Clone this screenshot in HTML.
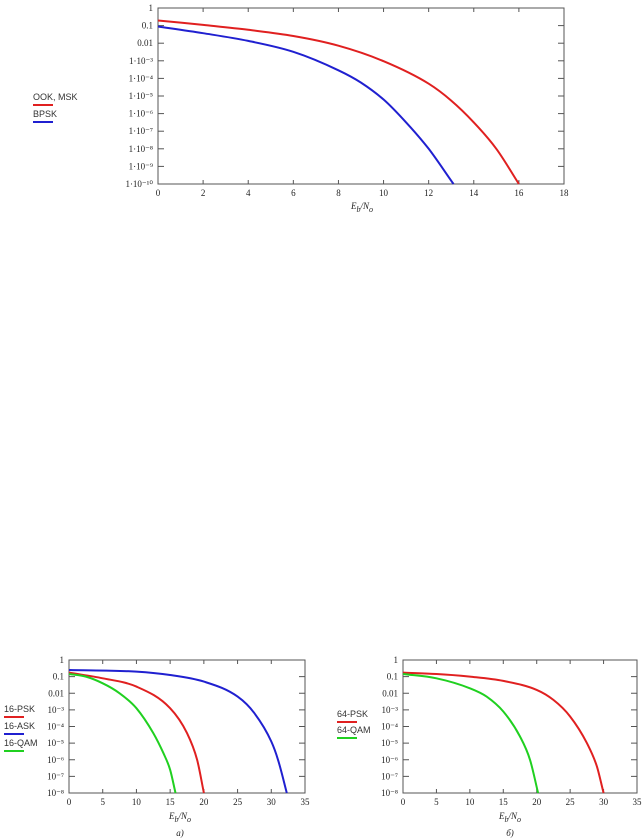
<!DOCTYPE html>
<html><head><meta charset="utf-8"><style>
html,body{margin:0;padding:0;background:#fff;}
svg{display:block;}
text{font-family:"Liberation Serif",serif;font-size:9px;fill:#222;}
.lg{font-family:"Liberation Sans",sans-serif;font-size:9px;fill:#333;}
</style></head><body>
<svg id="s" width="642" height="840" viewBox="0 0 642 840" xmlns="http://www.w3.org/2000/svg"></svg>
<script>
// ---- data (log10 of error probability) ----
const topX_ook = [0,2,4,6,8,10,12,13,14,15,16];
const topY_ook = [-0.71,-0.96,-1.24,-1.59,-2.14,-3.02,-4.3,-5.26,-6.5,-8.0,-10];
const topX_bpsk = [0,2,4,6,8,9,10,11,12,13.1];
const topY_bpsk = [-1.05,-1.43,-1.87,-2.49,-3.54,-4.24,-5.2,-6.5,-8.0,-10];
const aX_psk = [0,5,10,15,17.5,19,20];
const aY_psk = [-0.76,-1.1,-1.6,-2.9,-4.4,-6,-8];
const aX_ask = [0,10,15,20,25,27.5,30,31,32.3];
const aY_ask = [-0.6,-0.7,-0.9,-1.3,-2.2,-3.2,-4.9,-6,-8];
const aX_qam = [0,2.5,5,7.5,10,12.5,14,15,15.8];
const aY_qam = [-0.84,-1.0,-1.4,-2,-2.9,-4.4,-5.6,-6.6,-8];
const bX_psk = [0,5,10,15,20,22.5,25,27.5,29,30];
const bY_psk = [-0.76,-0.84,-1,-1.26,-1.8,-2.4,-3.4,-5,-6.4,-8];
const bX_qam = [0,5,10,12.5,15,17.5,19,20.2];
const bY_qam = [-0.84,-1.1,-1.7,-2.2,-3.1,-4.6,-6,-8];
const topXTicks = [0,2,4,6,8,10,12,14,16,18];
const topYTicks = ["1","0.1","0.01","1·10⁻³","1·10⁻⁴","1·10⁻⁵","1·10⁻⁶","1·10⁻⁷","1·10⁻⁸","1·10⁻⁹","1·10⁻¹⁰"];
const botXTicks = [0,5,10,15,20,25,30,35];
const botYTicks = ["1","0.1","0.01","10⁻³","10⁻⁴","10⁻⁵","10⁻⁶","10⁻⁷","10⁻⁸"];

const NS="http://www.w3.org/2000/svg";
const svg=document.getElementById('s');
function mk(tag,attrs,parent){const e=document.createElementNS(NS,tag);for(const k in attrs)e.setAttribute(k,attrs[k]);(parent||svg).appendChild(e);return e;}

function chart(name,L,T,R,B,xmax,ymin,xt,yt){
  const g=mk('g',{});
  
  
  const sx=v=>L+(v/xmax)*(R-L);
  const sy=v=>T+(0-v)/(0-ymin)*(B-T);
  const fr=mk('rect',{x:L,y:T,width:R-L,height:B-T,fill:'none',stroke:'#555','stroke-width':1},g);
  
  
  xt.forEach(v=>{
    const x=sx(v);
    mk('line',{x1:x,x2:x,y1:B,y2:B-4,stroke:'#555'},g);
    mk('line',{x1:x,x2:x,y1:T,y2:T+4,stroke:'#555'},g);
    const t=mk('text',{x:x,y:B+12,'text-anchor':'middle'},g);t.textContent=v;
    
    
  });
  yt.forEach((lab,i)=>{
    const y=sy(-i);
    mk('line',{x1:L,x2:L+6,y1:y,y2:y,stroke:'#555'},g);
    mk('line',{x1:R,x2:R-6,y1:y,y2:y,stroke:'#555'},g);
    const t=mk('text',{x:L-5,y:y+3,'text-anchor':'end'},g);t.textContent=lab;
    
    
  });
  return {g,sx,sy};
}
function smoothPath(P){
  const n=P.length;
  const d=[],m=[];
  for(let i=0;i<n-1;i++){d.push((P[i+1][1]-P[i][1])/(P[i+1][0]-P[i][0]));}
  m[0]=d[0];m[n-1]=d[n-2];
  for(let i=1;i<n-1;i++){m[i]=(d[i-1]*d[i]<=0)?0:(d[i-1]+d[i])/2;}
  let s='M'+P[0][0].toFixed(1)+','+P[0][1].toFixed(1);
  for(let i=0;i<n-1;i++){
    const h=P[i+1][0]-P[i][0];
    const c1x=P[i][0]+h/3,c1y=P[i][1]+m[i]*h/3;
    const c2x=P[i+1][0]-h/3,c2y=P[i+1][1]-m[i+1]*h/3;
    s+=' C'+c1x.toFixed(1)+','+c1y.toFixed(1)+' '+c2x.toFixed(1)+','+c2y.toFixed(1)+' '+P[i+1][0].toFixed(1)+','+P[i+1][1].toFixed(1);
  }
  return s;
}
function series(c,xs,ys,color,name){
  const P=xs.map((x,i)=>[c.sx(x),c.sy(ys[i])]);
  const p=mk('path',{d:smoothPath(P),fill:'none',stroke:color,'stroke-width':2,'stroke-linejoin':'round'},c.g);
  
  
}
function legend(x,y,label,color,name){
  const t=mk('text',{x:x,y:y,class:'lg'});t.textContent=label;
  
  
  mk('line',{x1:x,x2:x+20,y1:y+5,y2:y+5,stroke:color,'stroke-width':2});
}
function axisTitle(x,y,name){
  const t=mk('text',{x:x,y:y,'text-anchor':'middle','font-style':'italic','font-size':'11'});
  t.innerHTML='E<tspan font-size="8" dy="3">b</tspan><tspan dy="-3">/N</tspan><tspan font-size="8" dy="3">o</tspan>';
  
  
}

const c1=chart('top-chart',158,8,564,184,18,-10,topXTicks,topYTicks);
series(c1,topX_ook,topY_ook,'#e02020','ook-msk-curve');
series(c1,topX_bpsk,topY_bpsk,'#2020d0','bpsk-curve');
legend(33,100,'OOK, MSK','#e02020','legend-ook-msk');
legend(33,117,'BPSK','#2020d0','legend-bpsk');
axisTitle(362,209,'top-x-axis-title');

const c2=chart('chart-a',69,660,305,793,35,-8,botXTicks,botYTicks);
series(c2,aX_ask,aY_ask,'#2020d0','16-ask-curve');
series(c2,aX_psk,aY_psk,'#e02020','16-psk-curve');
series(c2,aX_qam,aY_qam,'#20d020','16-qam-curve');
legend(4,712,'16-PSK','#e02020','legend-16-psk');
legend(4,729,'16-ASK','#2020d0','legend-16-ask');
legend(4,746,'16-QAM','#20d020','legend-16-qam');
axisTitle(180,819,'chart-a-x-axis-title');
const ta=mk('text',{x:180,y:836,'text-anchor':'middle','font-style':'italic','font-size':'8'});ta.textContent='а)';



const c3=chart('chart-b',403,660,637,793,35,-8,botXTicks,botYTicks);
series(c3,bX_psk,bY_psk,'#e02020','64-psk-curve');
series(c3,bX_qam,bY_qam,'#20d020','64-qam-curve');
legend(337,717,'64-PSK','#e02020','legend-64-psk');
legend(337,733,'64-QAM','#20d020','legend-64-qam');
axisTitle(510,819,'chart-b-x-axis-title');
const tb=mk('text',{x:510,y:836,'text-anchor':'middle','font-style':'italic','font-size':'8'});tb.textContent='б)';


</script>
</body></html>
